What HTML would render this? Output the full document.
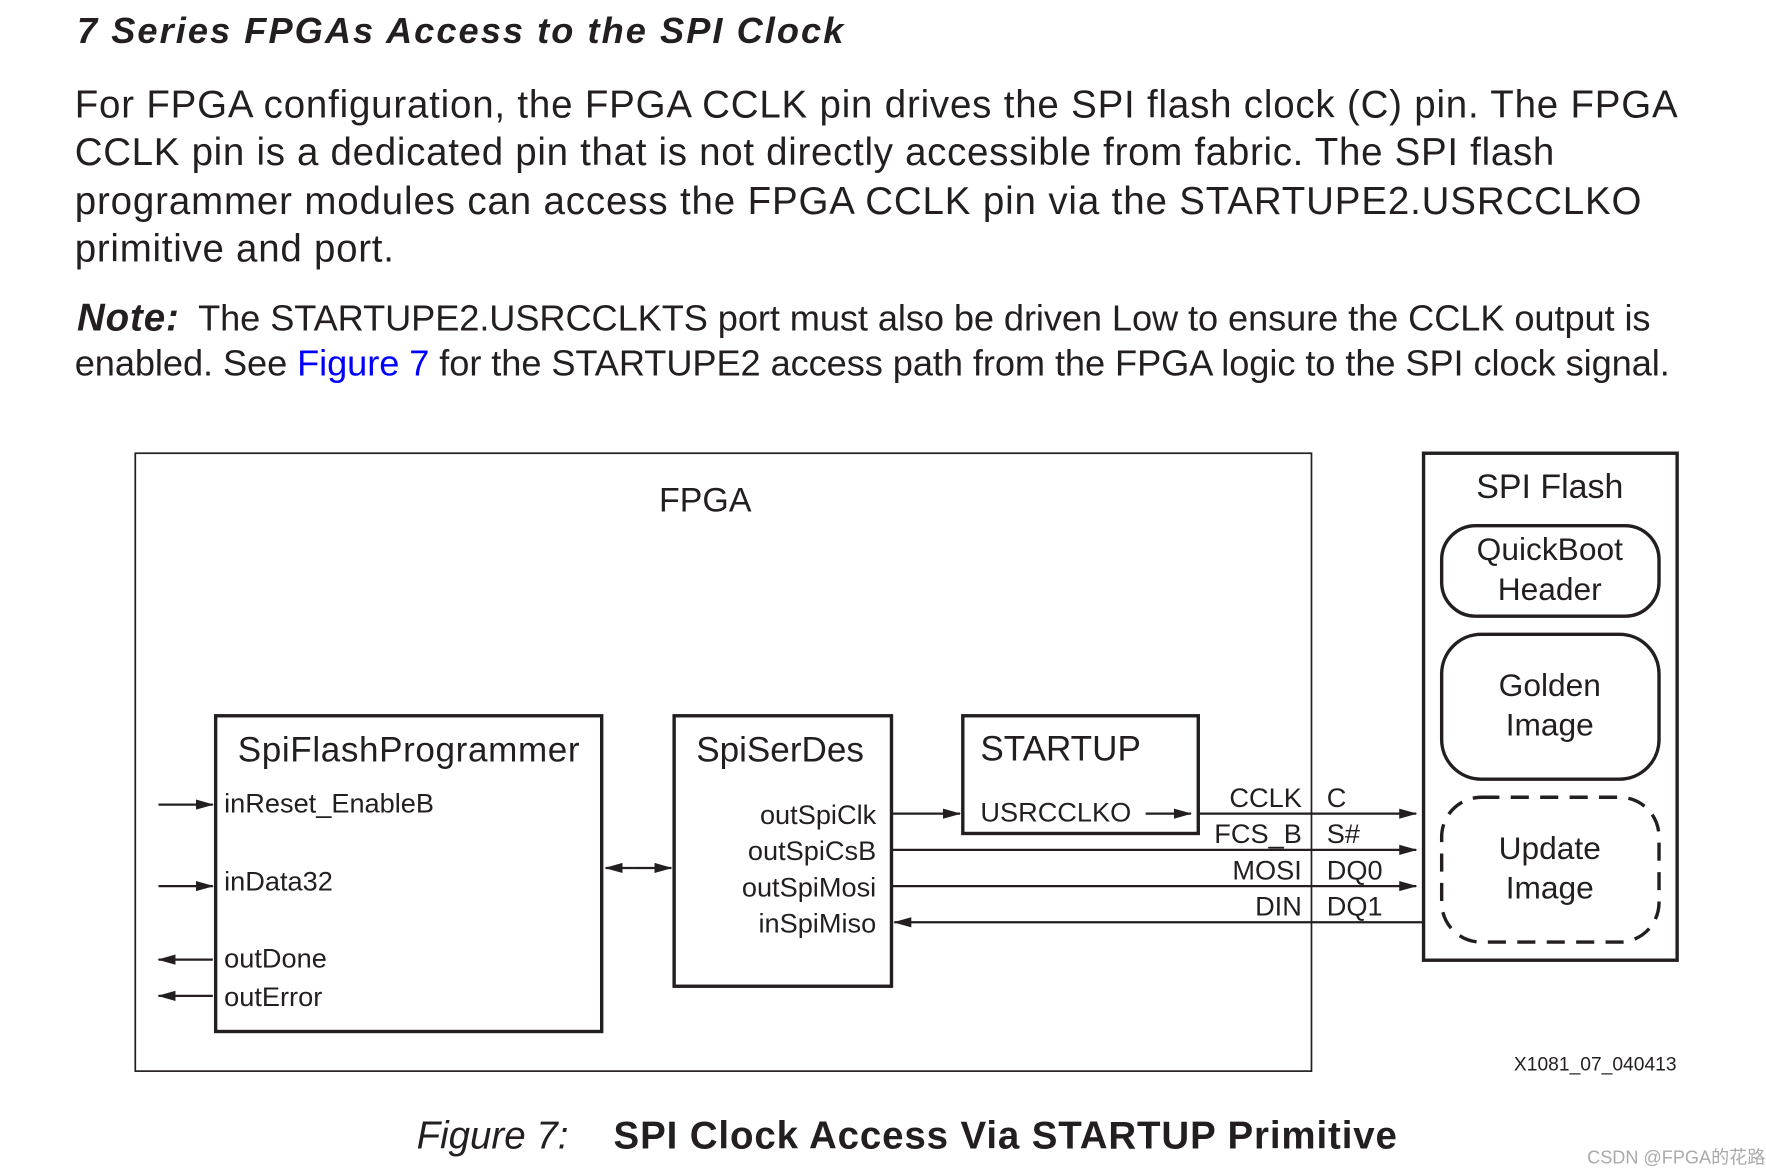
<!DOCTYPE html>
<html><head><meta charset="utf-8"><style>
html,body{margin:0;padding:0;background:#fff;}
svg{display:block;}
text{font-family:"Liberation Sans","Noto Sans CJK SC",sans-serif;fill:#231f20;}
</style></head><body>
<svg width="1766" height="1169" viewBox="0 0 1560 1033" preserveAspectRatio="none" xmlns="http://www.w3.org/2000/svg">
<defs>
<marker id="a" markerWidth="16" markerHeight="10" refX="15" refY="5" orient="auto" markerUnits="userSpaceOnUse"><path d="M0,0.5 L16,5 L0,9.5 z" fill="#231f20"/></marker>
</defs>
<text x="68" y="38" font-size="32" font-weight="bold" font-style="italic" textLength="677">7 Series FPGAs Access to the SPI Clock</text>
<g font-size="34">
<text x="66" y="104" textLength="1416">For FPGA configuration, the FPGA CCLK pin drives the SPI flash clock (C) pin. The FPGA</text>
<text x="66" y="146" textLength="1307">CCLK pin is a dedicated pin that is not directly accessible from fabric. The SPI flash</text>
<text x="66" y="189" textLength="1384">programmer modules can access the FPGA CCLK pin via the STARTUPE2.USRCCLKO</text>
<text x="66" y="231" textLength="282">primitive and port.</text>
</g>
<g font-size="32">
<text x="68" y="292" font-weight="bold" font-style="italic" font-size="34" textLength="90">Note:</text>
<text x="175" y="292" textLength="1283">The STARTUPE2.USRCCLKTS port must also be driven Low to ensure the CCLK output is</text>
<text x="66" y="332" textLength="1409">enabled. See <tspan fill="#0000ff">Figure 7</tspan> for the STARTUPE2 access path from the FPGA logic to the SPI clock signal.</text>
</g>
<g fill="none" stroke="#231f20">
<rect x="119.5" y="400.5" width="1039" height="546" stroke-width="1.5"/>
<rect x="1257.5" y="400.5" width="224" height="448" stroke-width="3"/>
<rect x="1273.5" y="464.5" width="192" height="80" rx="30" stroke-width="3"/>
<rect x="1273.5" y="560.5" width="192" height="128" rx="35" stroke-width="3"/>
<rect x="1273.5" y="704.5" width="192" height="128" rx="35" stroke-width="3" stroke-dasharray="16,10"/>
<rect x="190.5" y="632.5" width="341" height="279" stroke-width="3"/>
<rect x="595.5" y="632.5" width="192" height="239" stroke-width="3"/>
<rect x="850.5" y="632.5" width="208" height="104" stroke-width="3"/>
<g stroke-width="2">
<line x1="140" y1="711" x2="188" y2="711" marker-end="url(#a)"/>
<line x1="140" y1="783" x2="188" y2="783" marker-end="url(#a)"/>
<line x1="188" y1="848" x2="140" y2="848" marker-end="url(#a)"/>
<line x1="188" y1="880" x2="140" y2="880" marker-end="url(#a)"/>
<line x1="560" y1="767" x2="535" y2="767" marker-end="url(#a)"/>
<line x1="560" y1="767" x2="593" y2="767" marker-end="url(#a)"/>
<line x1="787" y1="719" x2="848" y2="719" marker-end="url(#a)"/>
<line x1="1012" y1="719" x2="1052" y2="719" marker-end="url(#a)"/>
<line x1="1058" y1="719" x2="1251" y2="719" marker-end="url(#a)"/>
<line x1="787" y1="751" x2="1251" y2="751" marker-end="url(#a)"/>
<line x1="787" y1="783" x2="1251" y2="783" marker-end="url(#a)"/>
<line x1="1257" y1="815" x2="790" y2="815" marker-end="url(#a)"/>
</g>
</g>
<text x="623" y="452" font-size="30" text-anchor="middle">FPGA</text>
<text x="1369" y="440" font-size="30" text-anchor="middle">SPI Flash</text>
<g font-size="28" text-anchor="middle">
<text x="1369" y="495">QuickBoot</text><text x="1369" y="530">Header</text>
<text x="1369" y="615">Golden</text><text x="1369" y="650">Image</text>
<text x="1369" y="759">Update</text><text x="1369" y="794">Image</text>
</g>
<g font-size="31">
<text x="210" y="673" textLength="302">SpiFlashProgrammer</text>
<text x="615" y="673">SpiSerDes</text>
<text x="866" y="672">STARTUP</text>
</g>
<g font-size="24">
<text x="198" y="718">inReset_EnableB</text>
<text x="198" y="787">inData32</text>
<text x="198" y="855">outDone</text>
<text x="198" y="889">outError</text>
<g text-anchor="end">
<text x="774" y="728">outSpiClk</text>
<text x="774" y="760">outSpiCsB</text>
<text x="774" y="792">outSpiMosi</text>
<text x="774" y="824">inSpiMiso</text>
<text x="1150" y="713">CCLK</text>
<text x="1150" y="745">FCS_B</text>
<text x="1150" y="777">MOSI</text>
<text x="1150" y="809">DIN</text>
</g>
<text x="866" y="726">USRCCLKO</text>
<text x="1172" y="713">C</text>
<text x="1172" y="745">S#</text>
<text x="1172" y="777">DQ0</text>
<text x="1172" y="809">DQ1</text>
</g>
<text x="1481" y="946" font-size="17" text-anchor="end">X1081_07_040413</text>
<text x="368" y="1015" font-size="34" font-style="italic">Figure 7:</text>
<text x="542" y="1015" font-size="34" font-weight="bold" textLength="692">SPI Clock Access Via STARTUP Primitive</text>
<text x="1402" y="1028" font-size="16" style="fill:#aaa">CSDN @FPGA的花路</text>
</svg>
</body></html>
